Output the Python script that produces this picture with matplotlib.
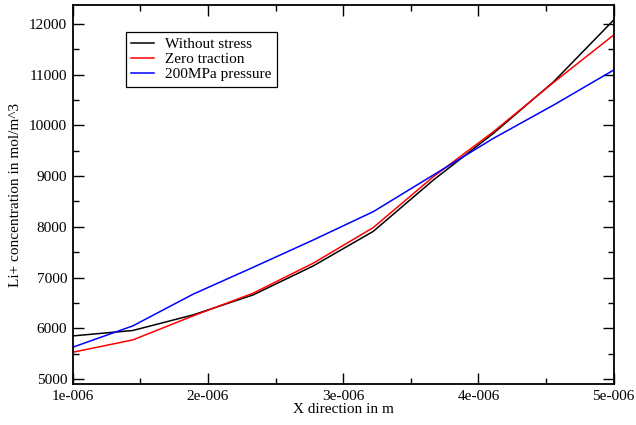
import numpy as np
import matplotlib
matplotlib.use("Agg")
import matplotlib.pyplot as plt
from matplotlib.ticker import FixedLocator, MultipleLocator

plt.rcParams['font.family'] = ['Liberation Serif', 'DejaVu Serif']

# x positions in metres
x_pos = [1.0e-6, 1.444e-6, 1.889e-6, 2.333e-6, 2.778e-6,
         3.222e-6, 3.667e-6, 4.111e-6, 4.556e-6, 5.0e-6]

without_stress = [5848, 5955, 6262, 6656, 7228, 7910, 8924, 9845, 10863, 12080]
zero_traction = [5526, 5769, 6242, 6690, 7282, 7985, 8990, 9877, 10850, 11784]
pressure_200 = [5625, 6045, 6670, 7200, 7740, 8299, 9023, 9746, 10403, 11093]

series_names = ["Without stress", "Zero traction", "200MPa pressure"]
series_colors = ["black", "red", "blue"]

x_ticks = [1e-6, 2e-6, 3e-6, 4e-6, 5e-6]
x_tick_labels = ["1e-006", "2e-006", "3e-006", "4e-006", "5e-006"]
y_ticks = [5000, 6000, 7000, 8000, 9000, 10000, 11000, 12000]

fig = plt.figure(figsize=(6.36, 4.25), dpi=100)
ax = fig.add_axes([0.1143, 0.0965, 0.8507, 0.8917])

for ys, name, col in zip([without_stress, zero_traction, pressure_200], series_names, series_colors):
    ax.plot(x_pos, ys, color=col, linewidth=1.1, label=name)

ax.set_xlim(1e-6, 5e-6)
ax.set_ylim(4900, 12375)

ax.xaxis.set_major_locator(FixedLocator(x_ticks))
ax.set_xticklabels(x_tick_labels)
ax.xaxis.set_minor_locator(MultipleLocator(0.5e-6))
ax.yaxis.set_major_locator(FixedLocator(y_ticks))
ax.yaxis.set_minor_locator(MultipleLocator(500))

ax.tick_params(which='both', direction='in', top=True, right=True, labelsize=11, width=1.0)
ax.tick_params(which='major', length=8)
ax.tick_params(which='minor', length=4)
ax.tick_params(axis='x', pad=4)
ax.tick_params(axis='y', pad=4)
for sp in ax.spines.values():
    sp.set_linewidth(1.3)

ax.set_xlabel("X direction in m", fontsize=11, labelpad=0)
ax.set_ylabel("Li+ concentration in mol/m^3", fontsize=11, labelpad=5)

leg = ax.legend(loc='upper left', bbox_to_anchor=(0.0985, 0.929), fontsize=11,
                fancybox=False, edgecolor='black', framealpha=1,
                handlelength=1.5, handletextpad=0.7, labelspacing=0.1,
                borderpad=0.35, borderaxespad=0)
leg.get_frame().set_linewidth(0.9)

fig.savefig("out.png", dpi=100)
